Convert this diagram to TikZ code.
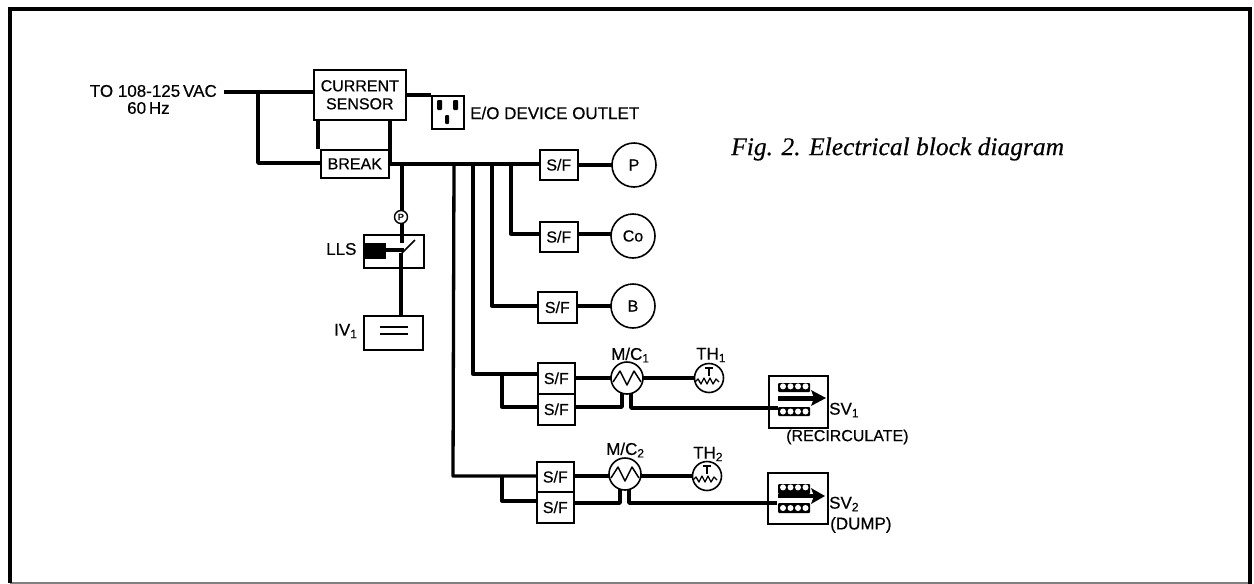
\documentclass[tikz,border=0pt]{standalone}
\usepackage{fontspec}
\setmainfont{Liberation Sans}[RawFeature={embolden=0.5}]
\newfontfamily\capfont{Liberation Serif}[RawFeature={embolden=0.4}]
\usetikzlibrary{arrows.meta}
\tikzset{
  x=1pt,y=-1pt,
  wire/.style={line width=3.8pt,line join=round,line cap=butt},
  drop/.style={line width=3.3pt,line join=round,line cap=butt},
  box/.style={draw,line width=1.6pt,fill=white,inner sep=0pt,anchor=north west,font=\fontsize{16}{17}\selectfont},
  disc/.style={draw,circle,line width=1.6pt,fill=white,inner sep=0pt,font=\fontsize{16}{17}\selectfont},
  lbl/.style={inner sep=0pt,font=\fontsize{17}{18}\selectfont,anchor=west},
}
\newcommand{\subs}[1]{\textsubscript{\fontsize{12}{12}\selectfont #1}}
\newcommand{\sfbox}[5]{\node[box,minimum width=#3 pt,minimum height=#4 pt] (#5) at (#1,#2) {S/F};}
\newcommand{\valve}[4]{% x, y top coil, y bottom coil, height
  \begin{scope}[shift={(#1,0)}]
    \fill[rounded corners=1pt] (0,#2) rectangle (32,#2+#4);
    \fill[rounded corners=1pt] (0,#3) rectangle (32,#3+#4);
    \foreach \k in {5,12.5,20,27.5}{
      \fill[white] (\k,#2+3.4) circle (3);
      \fill[white] (\k,#3+#4/2) circle (3);}
  \end{scope}}
\newcommand{\meter}[2]{%
  \draw[line width=1.5pt,line join=round] (#1,#2) ++(-14,4) -- ++(7,-11) -- ++(7,14) -- ++(7,-14) -- ++(7,11);}
\newcommand{\therm}[2]{%
  \draw[line width=1.3pt,line join=round] (#1,#2) ++(-14,4) -- ++(3,-3) -- ++(3,5) -- ++(3,-6) -- ++(3,6) -- ++(3,-6) -- ++(3,6) -- ++(3,-5) -- ++(3,3);
  \draw[line width=1.3pt] (#1,#2) ++(-4,-10) -- ++(8,0) (#1,#2) ++(0,-10) -- ++(0,8);}
\begin{document}
\begin{tikzpicture}
\useasboundingbox (0,0) rectangle (1254,584);
\fill[white] (0,0) rectangle (1254,584);
\draw[line width=2pt,gray] (10,583) -- (1250,583);
\draw[line width=3.5pt] (10,583) -- (10,9) -- (1250,9) -- (1250,584);

\coordinate (src) at (224,92);
\coordinate (j1) at (258,92);
\coordinate (bus) at (390,164);

% blocks
\node[box,minimum width=92pt,minimum height=50pt,align=center,font=\fontsize{16}{18}\selectfont] (cs) at (313,69) {CURRENT\\SENSOR};
\node[box,minimum width=68pt,minimum height=28pt] (brk) at (320,149) {BREAK};
\node[box,minimum width=32pt,minimum height=33pt] (out) at (431,95) {};
\node[box,minimum width=60pt,minimum height=33pt] (lls) at (363,234) {};
\node[box,minimum width=59pt,minimum height=34pt] (iv) at (363,315) {};

\sfbox{539}{149}{38}{30}{sfP}
\sfbox{539}{221}{38}{30}{sfC}
\sfbox{537}{291}{39}{31}{sfB}
\sfbox{537}{362}{37}{31}{sfa}
\sfbox{537}{393}{37}{31}{sfb}
\sfbox{536}{461}{37}{30}{sfc}
\sfbox{536}{491}{37}{31}{sfd}

\node[box,minimum width=59pt,minimum height=52pt] (sv1) at (768,375) {};
\node[box,minimum width=60pt,minimum height=51pt,line width=2pt] (sv2) at (767,472) {};
\coordinate (mc1) at (627,378);
\coordinate (mc2) at (625,474);
\coordinate (th1) at (709,378);
\coordinate (th2) at (707,476);

% main wires
\draw[wire] (src) -- (cs.west |- src);
\draw[wire] (j1) -- (258,163) -- (brk.west |- 0,163);
\draw[wire] (318,119) -- (318,149);
\draw[wire] (bus) -- (390,119);
\draw[wire] (388,164) -- (sfP.west |- 0,164);
\draw[wire] (405,95) -- (431,95);
\draw[drop] (402,164) -- (402,243);
\draw[drop] (401,253) -- (401,315);
\draw[wire] (sfP.east |- 0,165) -- (634,165);
\draw[wire] (sfC.east |- 0,234) -- (633,234);
\draw[wire] (sfB.east |- 0,306) -- (633,306);
\draw[drop] (511,164) -- (511,234) -- (sfC.west |- 0,234);
\draw[drop] (492,164) -- (492,306) -- (sfB.west |- 0,306);
\draw[drop] (473,164) -- (473,374) -- (sfa.west |- 0,374);
\draw[drop] (454,164) -- (453,476) -- (sfc.west |- 0,476);
\draw[drop] (502,374) -- (502,407) -- (sfb.west |- 0,407);
\draw[drop] (502,476) -- (502,501) -- (sfd.west |- 0,501);
\draw[wire] (sfa.east |- mc1) -- (mc1);
\draw[wire] (mc1) -- (th1);
\draw[wire] (sfc.east |- 0,476) -- (625,476);
\draw[wire] (625,476) -- (th2);
\draw[wire] (sfb.east |- 0,407) -- (622,407) -- (622,390);
\draw[wire] (631,390) -- (631,408) -- (778,408);
\draw[wire] (sfd.east |- 0,503) -- (620,503) -- (620,487);
\draw[wire] (629,487) -- (629,503) -- (777,503);

% discs over wire ends
\node[disc,minimum size=32pt] (mcA) at (mc1) {};
\node[disc,minimum size=32pt] (mcB) at (mc2) {};
\node[disc,minimum size=29pt] (thA) at (th1) {};
\node[disc,minimum size=29pt] (thB) at (th2) {};
\node[disc,minimum size=44pt] (P) at (634,165) {P};
\node[disc,minimum size=44pt] (Co) at (633,236) {Co};
\node[disc,minimum size=44pt] (B) at (633,306) {B};
\node[draw,circle,line width=1.4pt,minimum size=13pt,inner sep=0pt,fill=white,font=\fontsize{9}{9}\selectfont] (pr) at (401,217) {P};
\meter{627}{378}
\meter{625}{474}
\therm{709}{378}
\therm{707}{476}

% outlet slots
\fill[rounded corners=1pt] (437,100) rectangle (442,110);
\fill[rounded corners=1pt] (453,100) rectangle (458,110);
\fill[rounded corners=1pt] (445,115) rectangle (449,124);

% LLS innards
\fill (363,243) rectangle (386,259);
\draw[wire] (386,250) -- (404,250);
\draw[line width=1.7pt] (402,253) -- (415,240);

% IV symbol
\draw[line width=1.7pt] (380,327) -- (408,327) (380,334) -- (408,334);

% solenoid valves
\valve{778}{383}{407}{9}
\valve{778}{484}{503}{10}
\draw[line width=5pt] (778,398) -- (814,398);
\draw[line width=4pt] (778,496) -- (814,496);
\fill (811,390) -- (826,398) -- (811,406) -- (814,398) -- cycle;
\fill (811,488) -- (825,496) -- (811,504) -- (814,496) -- cycle;

% labels
\node[lbl,anchor=east] (t1) at (217,91) {TO 108-125\,VAC};
\node[lbl] (t2) at (127,108) {60\,Hz};
\node[lbl] (t3) at (470,113) {E/O DEVICE OUTLET};
\node[lbl] (t4) at (326,249) {LLS};
\node[lbl] (t5) at (334,331) {IV\subs{1}};
\node[lbl] (t6) at (611,355) {M/C\subs{1}};
\node[lbl] (t7) at (606,450) {M/C\subs{2}};
\node[lbl] (t8) at (696,355) {TH\subs{1}};
\node[lbl] (t9) at (693,454) {TH\subs{2}};
\node[lbl] (t10) at (829,410) {SV\subs{1}};
\node[lbl] (t11) at (829,504) {SV\subs{2}};
\node[lbl,font=\fontsize{16}{17}\selectfont] (t12) at (786,437) {(RECIRCULATE)};
\node[lbl] (t13) at (830,525) {(DUMP)};
\node[inner sep=0pt,anchor=west,font=\capfont\itshape\fontsize{25.5}{27}\selectfont] (cap) at (731,149) {Fig. 2. Electrical block diagram};
\end{tikzpicture}
\end{document}
